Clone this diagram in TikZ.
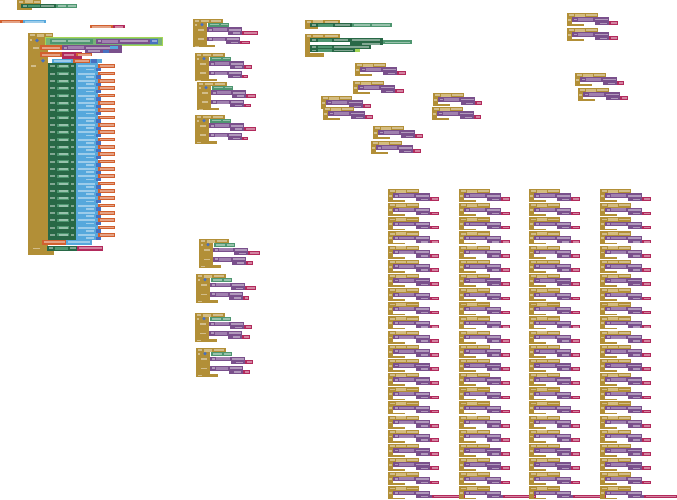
\documentclass[tikz,border=0pt]{standalone}
\definecolor{gold}{RGB}{178,143,55}
\definecolor{goldl}{RGB}{212,188,128}
\definecolor{purp}{RGB}{122,80,140}
\definecolor{purpl}{RGB}{160,128,175}
\definecolor{pink}{RGB}{178,42,92}
\definecolor{dgreen}{RGB}{40,104,70}
\definecolor{mgreen}{RGB}{78,150,112}
\definecolor{lgreen}{RGB}{120,178,120}
\definecolor{lime}{RGB}{165,215,85}
\definecolor{lblue}{RGB}{86,168,220}
\definecolor{orng}{RGB}{210,96,46}
\definecolor{mblue}{RGB}{72,112,192}
\tikzset{
  lb/.style={fill=white,fill opacity=0.42},
  gd/.style={fill=gold},
}
\newcommand{\btnb}[4]{%
\begin{scope}[shift={(#1,#2)}]
\fill[gold] (0,0) rectangle (31,4.4);
\fill[gold] (0,4) rectangle (5,12);
\fill[gold] (0,11.3) rectangle (17,13);
\fill[purp] (5,4.4) rectangle (42,8.8);
\fill[purp] (28,8.5) rectangle (#3,12);
\fill[pink] (#3,8.4) rectangle (#4,12);
\fill[lb] (1.5,1.3) rectangle (6.5,3.1);
\fill[goldl] (8,0.8) rectangle (17.5,3.6);
\fill[lb] (19,1.3) rectangle (29.5,3.1);
\fill[lb] (1,6) rectangle (4,7.8);
\fill[lb] (7,5.7) rectangle (10,7.5);
\fill[purpl] (11,5.2) rectangle (26,8);
\fill[lb] (27.5,5.7) rectangle (40.5,7.5);
\fill[lb] (33,9.6) rectangle (40,11.1);
\fill[lb] ({#3+1.5},9.4) rectangle ({#4-1.5},11.1);
\end{scope}}
\newcommand{\swb}[4]{%
\begin{scope}[shift={(#1,#2)}]
\fill[gold] (0,0) rectangle (30,4.2);
\fill[gold] (0,4) rectangle (14,27);
\fill[gold] (0,26) rectangle (22,28.5);
\fill[lb] (1.5,1.2) rectangle (6,3);
\fill[goldl] (7.5,0.7) rectangle (16,3.5);
\fill[lb] (17.5,1.2) rectangle (28,3);
\fill[lb] (1.5,5) rectangle (4,6.8);
\fill[mblue] (9,5.6) circle (1.7);
\fill[mgreen] (15,3.6) rectangle (36,7.6);
\fill[lb] (16.5,4.7) rectangle (26,6.5);
\fill[lb] (28,4.7) rectangle (34.5,6.5);
\fill[lb] (5,10) rectangle (11,11.8);
\fill[purp] (14,8.5) rectangle (49,13);
\fill[purp] (35,12.5) rectangle (49,16);
\fill[pink] (49,12.3) rectangle (#3,16);
\fill[lb] (16,9.8) rectangle (19,11.6);
\fill[purpl] (20,9.3) rectangle (34,12.2);
\fill[lb] (35.5,9.8) rectangle (47.5,11.6);
\fill[lb] (40,13.5) rectangle (47,15);
\fill[lb] (50.5,13.4) rectangle ({#3-1.5},15);
\fill[lb] (5,19.5) rectangle (11,21.3);
\fill[purp] (14,18) rectangle (47,22.5);
\fill[purp] (33,22) rectangle (47,25.5);
\fill[pink] (47,21.8) rectangle (#4,25.5);
\fill[lb] (16,19.3) rectangle (19,21.1);
\fill[purpl] (20,18.8) rectangle (32,21.7);
\fill[lb] (33.5,19.3) rectangle (45.5,21.1);
\fill[lb] (38,23) rectangle (45,24.5);
\fill[lb] (48.5,22.9) rectangle ({#4-1.5},24.5);
\fill[lb] (1.5,26.6) rectangle (6,27.9);
\end{scope}}
\begin{document}
\begin{tikzpicture}[x=1pt,y=-1pt]
\useasboundingbox (0,0) rectangle (677,500);
\fill[white] (0,0) rectangle (677,500);
% ---- top-left small blocks
\fill[gold] (17,0) rectangle (41,4);
\fill[gold] (17,4) rectangle (21,9);
\fill[gold] (17,8) rectangle (32,10.5);
\fill[lb] (19,0.8) rectangle (23,2.6);
\fill[goldl] (25,0.5) rectangle (33,3.2);
\fill[lb] (34,0.8) rectangle (40,2.6);
\fill[dgreen] (21,4) rectangle (56,8);
\fill[mgreen] (56,4) rectangle (77,8);
\fill[lb] (23,5) rectangle (27,6.9);
\fill[mgreen] (28,4.6) rectangle (40,7.4);
\fill[lb] (41,5) rectangle (54,6.9);
\fill[lb] (58,5) rectangle (66,6.9);
\fill[lb] (68,5) rectangle (75.5,6.9);
\fill[orng] (0,20) rectangle (23,23.5);
\fill[lblue] (23,20) rectangle (46,23.5);
\fill[lb] (1.5,21) rectangle (20,22.6);
\fill[lb] (25,21) rectangle (44,22.6);
\fill[orng] (90,25) rectangle (113,28.5);
\fill[pink] (113,25) rectangle (125,28.5);
\fill[lb] (91.5,26) rectangle (111,27.6);
\fill[lb] (115,26) rectangle (123,27.6);
% ---- big left block
\fill[gold] (28,33) rectangle (53,37.5);
\fill[gold] (28,37) rectangle (48,253);
\fill[gold] (28,251) rectangle (54,255);
\fill[lb] (30,34.2) rectangle (35,36.2);
\fill[goldl] (37,33.7) rectangle (44,36.7);
\fill[lb] (45.5,34.2) rectangle (51.5,36.2);
\fill[lb] (29.5,39) rectangle (32,40.8);
\fill[mblue] (37,40.5) circle (1.8);
\fill[lb] (33,47) rectangle (39,48.8);
\fill[lb] (31,65) rectangle (36,66.8);
\filldraw[fill=lgreen,draw=lime,line width=1pt] (45,37.5) rectangle (162,45.5);
\fill[mgreen] (50,39) rectangle (93,44);
\fill[lb] (52,40.4) rectangle (66,42.4);
\fill[lb] (68,40.4) rectangle (90,42.4);
\fill[purp] (96,39) rectangle (151,44);
\fill[lb] (98,40.4) rectangle (101,42.4);
\fill[purpl] (102,39.8) rectangle (118,43.2);
\fill[lb] (120,40.4) rectangle (148,42.4);
\fill[mblue] (150,39) rectangle (158,44);
\fill[lb] (151.5,40.4) rectangle (156.5,42.4);
\fill[orng] (40,45.5) rectangle (62,50);
\fill[lb] (41.5,46.7) rectangle (60,48.6);
\fill[purp] (62,45.5) rectangle (122,50);
\fill[purp] (85,49.5) rectangle (122,53);
\fill[lb] (64,46.7) rectangle (67,48.6);
\fill[purpl] (68,46.2) rectangle (84,49.2);
\fill[lb] (86,46.7) rectangle (110,48.6);
\fill[lb] (88,50.3) rectangle (100,52);
\fill[lblue] (110,46) rectangle (118,49.5);
\fill[mblue] (103,50) rectangle (109,53.5);
\fill[orng] (40,52.5) rectangle (62,57.5);
\fill[lb] (41.5,53.8) rectangle (60,55.8);
\fill[pink] (62,52.5) rectangle (82,61);
\fill[lb] (64,53.8) rectangle (74,55.8);
\fill[orng] (76,53) rectangle (92,56.5);
\fill[lb] (77.5,54) rectangle (90.5,55.6);
\fill[pink] (68,57.3) rectangle (76,60.5);
\fill[mblue] (43,60.8) circle (1.8);
\fill[lblue] (52,59) rectangle (102,63);
\fill[lb] (54,60.2) rectangle (71,61.9);
\fill[orng] (73,59.4) rectangle (90,62.6);
\fill[lb] (74.5,60.3) rectangle (88.5,61.8);
\fill[mblue] (91,59.4) rectangle (97,62.6);
% rows
\fill[dgreen] (48,63) rectangle (76,240);
\fill[lblue] (76,63) rectangle (98,240);
\foreach \k in {0,...,23}{
  \pgfmathsetmacro\yy{64.5+7.33*\k}
  \fill[lb] (50,{\yy+1}) rectangle (55,{\yy+2.8});
  \fill[mgreen] (57,{\yy+0.4}) rectangle (69,{\yy+3.4});
  \fill[lb] (58.5,{\yy+1}) rectangle (67.5,{\yy+2.8});
  \fill[lb] (71,{\yy+1}) rectangle (74,{\yy+2.8});
  \fill[lb] (78,{\yy+1}) rectangle (95,{\yy+2.8});
  \fill[lb] (86,{\yy+4.3}) rectangle (94,{\yy+5.9});
  \fill[mblue] (96,{\yy+3.6}) rectangle (101,{\yy+6.8});
  \fill[orng] (98,{\yy}) rectangle (115,{\yy+3.5});
  \fill[lb] (99.5,{\yy+0.9}) rectangle (113.5,{\yy+2.6});
}
\fill[orng] (42,240) rectangle (66,244.5);
\fill[lb] (43.5,241.2) rectangle (64.5,243.2);
\fill[lblue] (66,240) rectangle (92,244.5);
\fill[lb] (68,241.2) rectangle (90,243.2);
\fill[lb] (33,247.5) rectangle (40,249.3);
\fill[dgreen] (47,246) rectangle (77,250.5);
\fill[lb] (49,247.2) rectangle (53,249.2);
\fill[mgreen] (55,246.6) rectangle (68,249.8);
\fill[lb] (69.5,247.2) rectangle (75.5,249.2);
\fill[pink] (77,246) rectangle (103,250.5);
\fill[lb] (78.5,247.2) rectangle (101.5,249.2);
% ---- column 2 switch blocks (pink ends relative)
\swb{193}{19}{65}{57}
\swb{195}{53}{57}{53}
\swb{197}{82}{59}{54}
\swb{195}{115}{61}{53}
\swb{199}{239}{61}{54}
\swb{196}{274}{60}{53}
\swb{195}{313}{57}{55}
\swb{196}{348}{57}{54}
% ---- column 3 green blocks
\fill[gold] (305,20) rectangle (340,23.5);
\fill[gold] (305,23) rectangle (310,28.5);
\fill[gold] (305,27) rectangle (318,29.5);
\fill[lb] (307,20.9) rectangle (311,22.6);
\fill[goldl] (313,20.5) rectangle (323,23.2);
\fill[lb] (325,20.9) rectangle (338,22.6);
\fill[dgreen] (310,23.5) rectangle (352,27.5);
\fill[mgreen] (352,23.5) rectangle (392,27.5);
\fill[lb] (312,24.5) rectangle (316,26.5);
\fill[mgreen] (318,24) rectangle (333,27);
\fill[lb] (335,24.5) rectangle (350,26.5);
\fill[lb] (354,24.5) rectangle (370,26.5);
\fill[lb] (372,24.5) rectangle (390,26.5);
\fill[gold] (305,34) rectangle (340,38);
\fill[gold] (305,38) rectangle (310,55);
\fill[gold] (305,53.5) rectangle (324,57);
\fill[lb] (307,35) rectangle (311,36.8);
\fill[goldl] (313,34.6) rectangle (323,37.4);
\fill[lb] (325,35) rectangle (338,36.8);
\fill[dgreen] (310,38) rectangle (383,42.5);
\fill[dgreen] (350,42) rectangle (383,45.5);
\fill[mgreen] (383,40.5) rectangle (412,44.5);
\fill[lb] (312,39.2) rectangle (316,41.1);
\fill[mgreen] (318,38.6) rectangle (332,41.6);
\fill[lb] (334,39.2) rectangle (348,41.1);
\fill[lb] (352,39.2) rectangle (380,41.1);
\fill[lb] (362,43) rectangle (380,44.6);
\fill[lb] (385,41.6) rectangle (410,43.4);
\fill[dgreen] (310,45.5) rectangle (371,48.8);
\fill[lb] (312,46.3) rectangle (316,48);
\fill[mgreen] (318,45.8) rectangle (332,48.5);
\fill[lb] (334,46.3) rectangle (369,48);
\fill[dgreen] (310,48.8) rectangle (356,52.3);
\fill[lime] (355,49.2) rectangle (360,52);
\fill[lb] (312,49.6) rectangle (316,51.4);
\fill[mgreen] (318,49.1) rectangle (332,52);
\fill[lb] (334,49.6) rectangle (353,51.4);
% ---- column 3 button blocks
\btnb{355}{63}{42}{51}
\btnb{353}{81}{42}{51}
\btnb{321}{96}{42}{50}
\btnb{323}{107}{42}{50}
\btnb{373}{126}{42}{50}
\btnb{371}{141}{42}{50}
\btnb{433}{93}{42}{49}
\btnb{432}{107}{42}{49}
% ---- right column
\btnb{567}{13}{42}{51}
\btnb{567}{28}{42}{51}
\btnb{575}{73}{42}{49}
\btnb{578}{88}{42}{50}
% ---- grid
\foreach \cx in {388,459,529,600}{
  \foreach \r in {0,...,20}{
    \pgfmathsetmacro\ry{189+14.157*\r}
    \btnb{\cx}{\ry}{42}{51}
  }
  \btnb{\cx}{486.3}{44}{77}
}
\end{tikzpicture}
\end{document}
